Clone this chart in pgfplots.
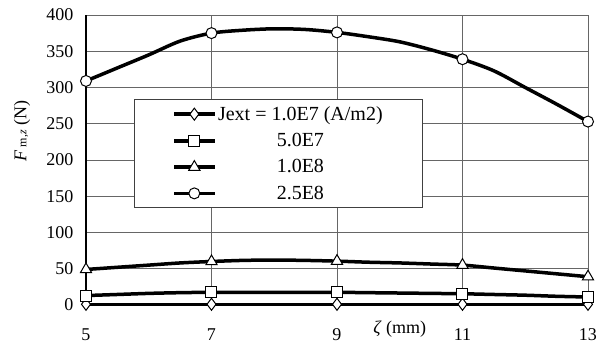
\documentclass[border=0pt]{standalone}
\usepackage{fontspec}
\setmainfont{Liberation Serif}
\usepackage{pgfplots}
\pgfplotsset{compat=1.18}
\pgfplotstableread{
x d s t c
5    1 13   49 309
5.5  1 14.5 52 327
6    1 16   55 345
6.5  1 17   58 364
7    1 17.5 60 375
7.5  1 17.5 61.5 379
8    1 17.5 62 381
8.5  1 17.5 61.5 380
9    1 17.5 60.5 376
9.5  1 17 59 370
10   1 16.5 58 363
10.5 1 16 56.5 352
11   1 15.5 55 339
11.5 1 14.5 51 323
12   1 13.5 47 300
12.5 1 12 43 277
13   1 11 39 253
}\datatable
\begin{document}
\begin{tikzpicture}
\path[use as bounding box] (0pt,0pt) rectangle (614pt,347pt);
\begin{axis}[
 at={(86pt,42pt)}, anchor=south west,
 scale only axis, width=502pt, height=290pt,
 xmin=5, xmax=13, ymin=0, ymax=400,
 xtick={5,7,9,11,13}, ytick={0,50,...,400},
 clip=false,
 axis x line=bottom, axis y line=left,
 axis line style={-, line width=2pt, black},
 major tick length=0pt,
 grid=major,
 major grid style={black!60, line width=0.7pt},
 /pgf/number format/assume math mode=true,
 tick label style={font=\fontsize{18}{22}\selectfont},
 xticklabel style={anchor=base, yshift=-36pt},
 yticklabel style={xshift=-9pt},
 xlabel={\textit{ζ} (mm)},
 xlabel style={at={(axis description cs:0.625,-0.083)}, anchor=center, font=\fontsize{18}{22}\selectfont},
 ylabel={\textit{F}\,{\fontsize{12}{14}\selectfont m,\textit{z}} (N)},
 ylabel style={at={(axis description cs:-0.1275,0.6)}, anchor=center, rotate=0, font=\fontsize{18}{22}\selectfont},
 legend style={at={(axis description cs:0.096,0.71)}, anchor=north west,
   draw=black!75, line width=0.8pt, font=\fontsize{20}{23}\selectfont,
   row sep=7.5pt, inner xsep=38pt, inner ysep=5pt},
 legend cell align=center,
 legend image code/.code={\draw[#1, mark repeat=2, mark phase=2] plot coordinates {(0pt,0pt) (20pt,0pt) (40pt,0pt)};},
 myplot/.style={black, line width=3.5pt, smooth, mark repeat=4,
   mark options={fill=white, draw=black, line width=1pt, solid}},
]
\addplot[myplot, mark=diamond*, mark size=6pt] table[x=x,y=d] {\datatable};
\addlegendentry{Jext = 1.0E7 (A/m2)}
\addplot[myplot, mark=square*, mark size=5.5pt] table[x=x,y=s] {\datatable};
\addlegendentry{5.0E7}
\addplot[myplot, mark=triangle*, mark size=6.5pt] table[x=x,y=t] {\datatable};
\addlegendentry{1.0E8}
\addplot[myplot, mark=*, mark size=5.5pt] table[x=x,y=c] {\datatable};
\addlegendentry{2.5E8}
\end{axis}
\end{tikzpicture}
\end{document}
